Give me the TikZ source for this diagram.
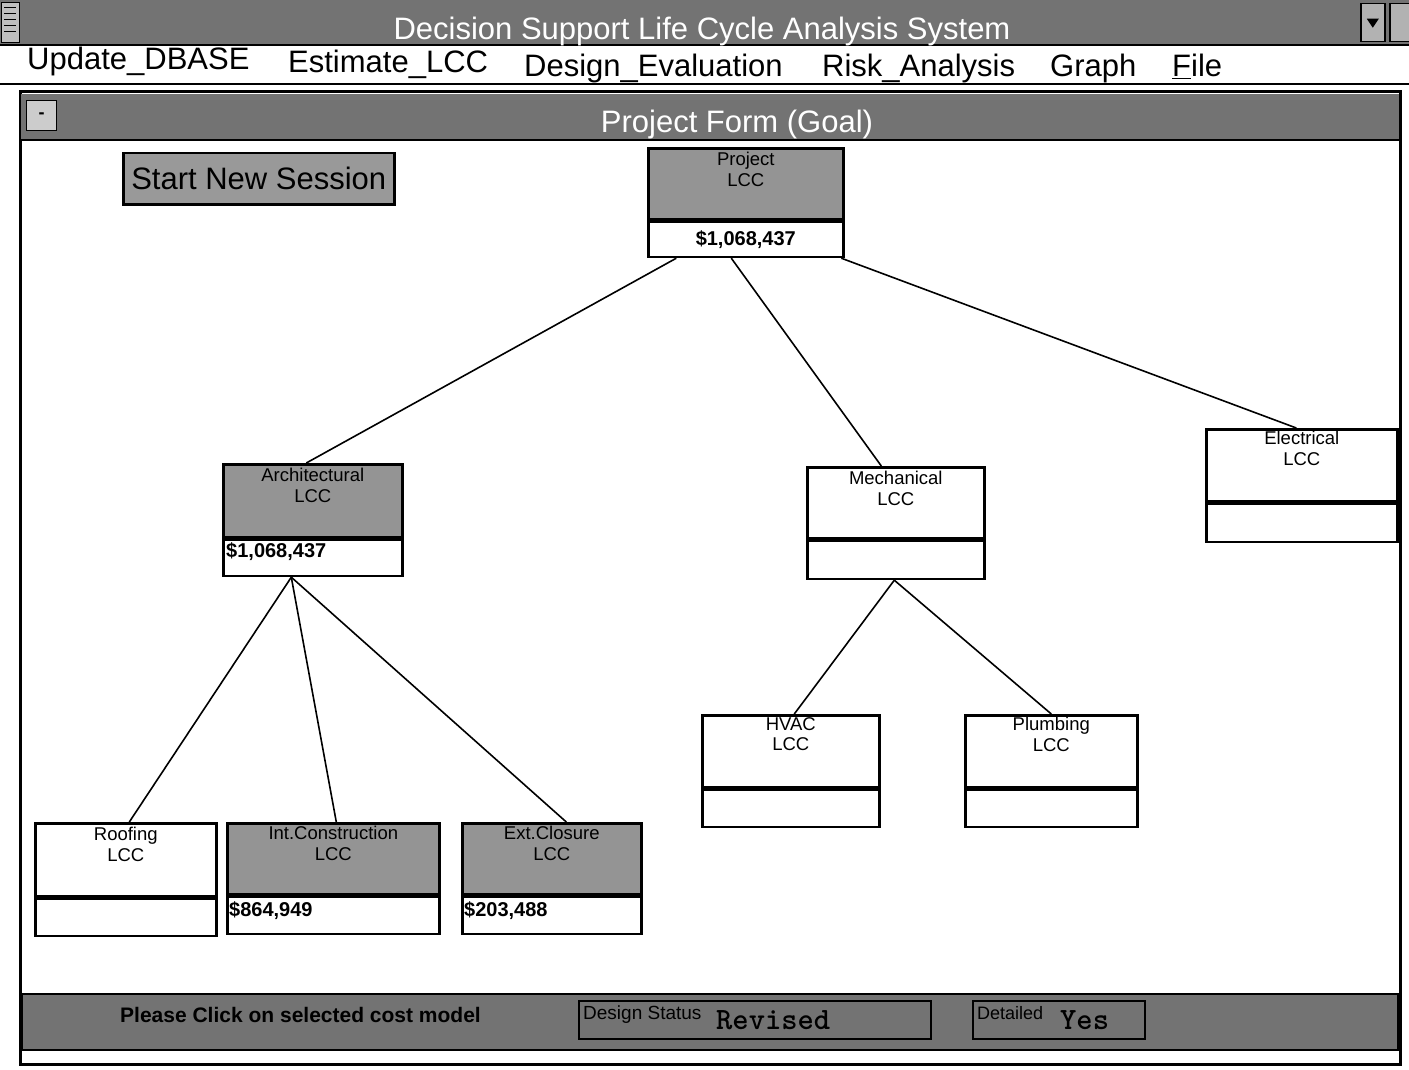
\documentclass[tikz,border=0pt]{standalone}
\usepackage{fontspec}
\setmainfont{Liberation Sans}
\begin{document}
\begin{tikzpicture}[x=1pt,y=-1pt,
  font=\fontsize{18}{20}\selectfont,
  barfill/.style={fill=black!55},
  shade/.style={fill=black!42},
  box/.style={draw, line width=2.6pt, anchor=north west, inner sep=0pt},
  hdr/.style={box, shade},
  val/.style={box, fill=white},
  lbl/.style={anchor=north, align=center, inner sep=0pt, font=\fontsize{18.5}{20.5}\selectfont},
  amount/.style={inner sep=0pt, font=\bfseries\fontsize{20}{22}\selectfont},
  wire/.style={line width=1.6pt},
  menu/.style={anchor=base west, inner sep=0pt, font=\fontsize{31}{32}\selectfont},
  status/.style={inner sep=0pt, font=\bfseries\fontsize{21}{22}\selectfont}]
\useasboundingbox (0,0) rectangle (1409,1070);
\fill[white] (0,0) rectangle (1409,1070);

% application title bar
\fill[barfill] (0,0) rectangle (1409,45);
\draw[line width=2pt] (0,45) -- (1409,45);
\node[draw, fill=black!25, line width=1pt, minimum width=18, minimum height=40, anchor=north west, inner sep=0] (sysbox) at (1,2) {};
\foreach \yy in {8,14,20,26,32} \draw[line width=1pt] (4,\yy) -- (16,\yy);
\node[draw, fill=black!30, line width=1.5pt, minimum width=24, minimum height=38, anchor=north west, inner sep=0] (minbtn) at (1360,3) {};
\fill ([xshift=-6pt,yshift=4pt]minbtn.center) -- ([xshift=6pt,yshift=4pt]minbtn.center) -- ([yshift=-5pt]minbtn.center) -- cycle;
\node[draw, fill=black!30, line width=1.5pt, minimum width=20, minimum height=38, anchor=north west, inner sep=0] (maxbtn) at (1389,3) {};
\node[text=white, inner sep=0, font=\fontsize{31}{32}\selectfont, anchor=base] (apptitle) at (702,40) {Decision Support Life Cycle Analysis System};

% menu bar
\node[menu] (m1) at (27,70) {Update\_DBASE};
\node[menu] (m2) at (288,73) {Estimate\_LCC};
\node[menu] (m3) at (524,77) {Design\_Evaluation};
\node[menu] (m4) at (822,77) {Risk\_Analysis};
\node[menu] (m5) at (1050,77) {Graph};
\node[menu] (m6) at (1172,77) {\underline{F}ile};
\draw[line width=2pt] (0,84) -- (1409,84);

% project form window
\draw[line width=3pt] (20,92) rectangle (1400,1064);
\fill[barfill] (21,94) rectangle (1399,140);
\draw[line width=1.5pt] (21,140) -- (1399,140);
\node[draw, fill=black!20, line width=1pt, minimum width=30, minimum height=30, anchor=north west, inner sep=0] (formbox) at (26,100) {\bfseries -};
\node[text=white, inner sep=0, font=\fontsize{31}{32}\selectfont, anchor=base] (formtitle) at (737,133) {Project Form (Goal)};

% button
\node[draw, line width=2.5pt, fill=black!40, minimum width=271, minimum height=51, anchor=north west, inner sep=0,
      font=\fontsize{31}{32}\selectfont] (startbtn) at (122,152) {Start New Session};

% project
\node[hdr, minimum width=195, minimum height=71] (proj) at (647,147) {};
\node[val, minimum width=195, minimum height=35] (projv) at (proj.south west) {};
\node[lbl] (projt) at ([yshift=-5pt]proj.north) {Project\\LCC};
\node[amount] (projn) at (projv.center) {\$1,068,437};

% architectural
\node[hdr, minimum width=179, minimum height=73] (arch) at (222,463) {};
\node[val, minimum width=179, minimum height=36] (archv) at (arch.south west) {};
\node[lbl] (archt) at ([yshift=-5pt]arch.north) {Architectural\\LCC};
\node[amount, anchor=west] (archn) at ([xshift=4pt,yshift=6pt]archv.west) {\$1,068,437};

% mechanical
\node[val, minimum width=177, minimum height=71] (mech) at (806,466) {};
\node[val, minimum width=177, minimum height=38] (mechv) at (mech.south west) {};
\node[lbl] (mecht) at ([yshift=-5pt]mech.north) {Mechanical\\LCC};

% electrical
\node[val, minimum width=191, minimum height=72] (elec) at (1205,428) {};
\node[val, minimum width=191, minimum height=38] (elecv) at (elec.south west) {};
\node[lbl] (elect) at ([yshift=-3pt]elec.north) {Electrical\\LCC};

% HVAC
\node[val, minimum width=177, minimum height=72] (hvac) at (701,714) {};
\node[val, minimum width=177, minimum height=37] (hvacv) at (hvac.south west) {};
\node[lbl] (hvact) at ([yshift=-3pt]hvac.north) {HVAC\\LCC};

% plumbing
\node[val, minimum width=172, minimum height=72] (plmb) at (964,714) {};
\node[val, minimum width=172, minimum height=37] (plmbv) at (plmb.south west) {};
\node[lbl] (plmbt) at ([yshift=-3pt]plmb.north) {Plumbing\\LCC};

% roofing
\node[val, minimum width=181, minimum height=73] (roof) at (34,822) {};
\node[val, minimum width=181, minimum height=37] (roofv) at (roof.south west) {};
\node[lbl] (rooft) at ([yshift=-5pt]roof.north) {Roofing\\LCC};

% interior construction
\node[hdr, minimum width=212, minimum height=71] (intc) at (226,822) {};
\node[val, minimum width=212, minimum height=37] (intcv) at (intc.south west) {};
\node[lbl] (intct) at ([yshift=-4pt]intc.north) {Int.Construction\\LCC};
\node[amount, anchor=west] (intcn) at ([xshift=3pt,yshift=5pt]intcv.west) {\$864,949};

% exterior closure
\node[hdr, minimum width=179, minimum height=71] (extc) at (461,822) {};
\node[val, minimum width=179, minimum height=37] (extcv) at (extc.south west) {};
\node[lbl] (extct) at ([yshift=-4pt]extc.north) {Ext.Closure\\LCC};
\node[amount, anchor=west] (extcn) at ([xshift=3pt,yshift=5pt]extcv.west) {\$203,488};

% connectors
\draw[wire] ([xshift=-69.5pt]projv.south) -- ([xshift=-6.5pt]arch.north);
\draw[wire] ([xshift=-14.5pt]projv.south) -- ([xshift=-14.5pt]mech.north);
\draw[wire] ([xshift=95.5pt]projv.south) -- ([xshift=-5.5pt]elec.north);
\draw[wire] ([xshift=-21.5pt]archv.south) -- ([xshift=3.5pt]roof.north);
\draw[wire] ([xshift=-21.5pt]archv.south) -- ([xshift=3pt]intc.north);
\draw[wire] ([xshift=-21.5pt]archv.south) -- ([xshift=14.5pt]extc.north);
\draw[wire] ([xshift=-1.5pt]mechv.south) -- ([xshift=3.5pt]hvac.north);
\draw[wire] ([xshift=-1.5pt]mechv.south) -- (plmb.north);

% status bar
\fill[barfill] (22,994) rectangle (1398,1050);
\draw[line width=2pt] (22,994) rectangle (1398,1050);
\node[status, anchor=west] (hint) at (120,1015) {Please Click on selected cost model};
\node[draw, line width=1.5pt, minimum width=352, minimum height=38, anchor=north west, inner sep=0] (dsbox) at (578,1000) {};
\node[status, anchor=west, font=\fontsize{19}{20}\selectfont] (dslbl) at (583,1015) {Design Status};
\node[status, anchor=west, font=\ttfamily\bfseries\fontsize{31}{32}\selectfont] (dsval) at (716,1020) {Revised};
\node[draw, line width=1.5pt, minimum width=172, minimum height=38, anchor=north west, inner sep=0] (dtbox) at (972,1000) {};
\node[status, anchor=west, font=\fontsize{18}{20}\selectfont] (dtlbl) at (977,1013) {Detailed};
\node[status, anchor=west, font=\ttfamily\bfseries\fontsize{31}{32}\selectfont] (dtval) at (1060,1020) {Yes};
\end{tikzpicture}
\end{document}
